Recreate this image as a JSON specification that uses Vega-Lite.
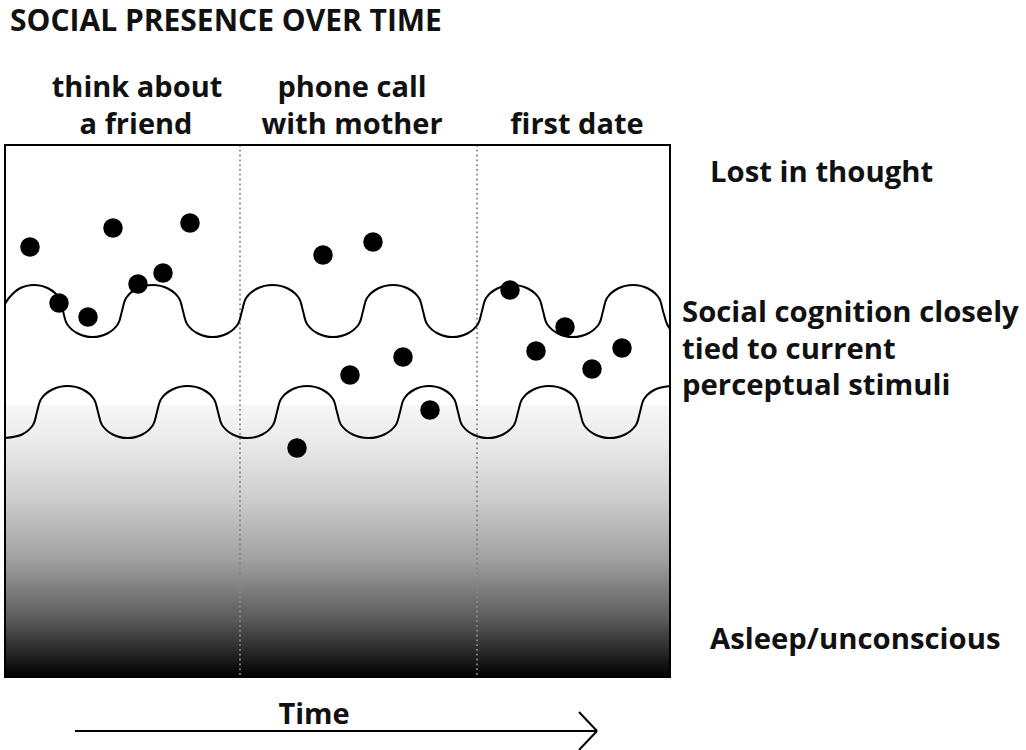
{
  "$schema": "https://vega.github.io/schema/vega-lite/v6.json",
  "width": 665,
  "height": 532,
  "autosize": {"type": "none"},
  "padding": {"left": 5, "top": 145, "right": 356, "bottom": 73},
  "background": "white",
  "config": {"view": {"stroke": null}, "font": "Open Sans"},
  "layer": [
    {
      "data": {"values": [{"top": 405, "bottom": 677}]},
      "mark": {
        "type": "rect",
        "color": {
          "gradient": "linear", "x1": 0, "y1": 0, "x2": 0, "y2": 1,
          "stops": [
            {"offset": 0, "color": "#f6f6f6"},
            {"offset": 0.13, "color": "#ebebeb"},
            {"offset": 0.35, "color": "#cccccc"},
            {"offset": 0.57, "color": "#a0a0a0"},
            {"offset": 0.79, "color": "#5a5a5a"},
            {"offset": 0.95, "color": "#151515"},
            {"offset": 1, "color": "#000000"}
          ]
        }
      },
      "encoding": {
        "y": {"field": "top", "type": "quantitative", "scale": {"domain": [145, 677], "reverse": true, "nice": false, "zero": false}, "axis": null},
        "y2": {"field": "bottom"}
      }
    },
    {
      "data": {"values": [{"x": 240}, {"x": 477}]},
      "mark": {"type": "rule", "color": "#888", "strokeWidth": 1.8, "strokeDash": [1.8, 3]},
      "encoding": {
        "x": {"field": "x", "type": "quantitative", "scale": {"domain": [5, 670], "nice": false, "zero": false}, "axis": null}
      }
    },
    {
      "data": {"values": [
        {"w":"u","x":5,"y":304},{"w":"u","x":8.9,"y":298},{"w":"u","x":19.5,"y":288.5},{"w":"u","x":34,"y":285},{"w":"u","x":48.5,"y":288.5},{"w":"u","x":59.1,"y":298},{"w":"u","x":63,"y":311},
        {"w":"u","x":67,"y":324},{"w":"u","x":77.8,"y":333.5},{"w":"u","x":92.5,"y":337},{"w":"u","x":107.3,"y":333.5},{"w":"u","x":118,"y":324},{"w":"u","x":122,"y":311},
        {"w":"u","x":126.1,"y":298},{"w":"u","x":137.3,"y":288.5},{"w":"u","x":152.5,"y":285},{"w":"u","x":167.8,"y":288.5},{"w":"u","x":178.9,"y":298},{"w":"u","x":183,"y":311},
        {"w":"u","x":187,"y":324},{"w":"u","x":197.8,"y":333.5},{"w":"u","x":212.5,"y":337},{"w":"u","x":227.3,"y":333.5},{"w":"u","x":238,"y":324},{"w":"u","x":242,"y":311},
        {"w":"u","x":246.1,"y":298},{"w":"u","x":257.3,"y":288.5},{"w":"u","x":272.5,"y":285},{"w":"u","x":287.8,"y":288.5},{"w":"u","x":298.9,"y":298},{"w":"u","x":303,"y":311},
        {"w":"u","x":307,"y":324},{"w":"u","x":318,"y":333.5},{"w":"u","x":333,"y":337},{"w":"u","x":348,"y":333.5},{"w":"u","x":359,"y":324},{"w":"u","x":363,"y":311},
        {"w":"u","x":367,"y":298},{"w":"u","x":378,"y":288.5},{"w":"u","x":393,"y":285},{"w":"u","x":408,"y":288.5},{"w":"u","x":419,"y":298},{"w":"u","x":423,"y":311},
        {"w":"u","x":427,"y":324},{"w":"u","x":437.8,"y":333.5},{"w":"u","x":452.5,"y":337},{"w":"u","x":467.3,"y":333.5},{"w":"u","x":478,"y":324},{"w":"u","x":482,"y":311},
        {"w":"u","x":486.1,"y":298},{"w":"u","x":497.3,"y":288.5},{"w":"u","x":512.5,"y":285},{"w":"u","x":527.8,"y":288.5},{"w":"u","x":538.9,"y":298},{"w":"u","x":543,"y":311},
        {"w":"u","x":547,"y":324},{"w":"u","x":558,"y":333.5},{"w":"u","x":573,"y":337},{"w":"u","x":588,"y":333.5},{"w":"u","x":599,"y":324},{"w":"u","x":603,"y":311},
        {"w":"u","x":607,"y":298},{"w":"u","x":618,"y":288.5},{"w":"u","x":633,"y":285},{"w":"u","x":648,"y":288.5},{"w":"u","x":659,"y":298},{"w":"u","x":663,"y":311},
        {"w":"u","x":667,"y":324},{"w":"u","x":670,"y":329},
        {"w":"l","x":5,"y":438},{"w":"l","x":22,"y":434.5},{"w":"l","x":33,"y":425},{"w":"l","x":37,"y":412},
        {"w":"l","x":41.1,"y":399},{"w":"l","x":52.3,"y":389.5},{"w":"l","x":67.5,"y":386},{"w":"l","x":82.8,"y":389.5},{"w":"l","x":93.9,"y":399},{"w":"l","x":98,"y":412},
        {"w":"l","x":102,"y":425},{"w":"l","x":112.8,"y":434.5},{"w":"l","x":127.5,"y":438},{"w":"l","x":142.3,"y":434.5},{"w":"l","x":153,"y":425},{"w":"l","x":157,"y":412},
        {"w":"l","x":161.1,"y":399},{"w":"l","x":172.3,"y":389.5},{"w":"l","x":187.5,"y":386},{"w":"l","x":202.8,"y":389.5},{"w":"l","x":213.9,"y":399},{"w":"l","x":218,"y":412},
        {"w":"l","x":222,"y":425},{"w":"l","x":232.8,"y":434.5},{"w":"l","x":247.5,"y":438},{"w":"l","x":262.3,"y":434.5},{"w":"l","x":273,"y":425},{"w":"l","x":277,"y":412},
        {"w":"l","x":281,"y":399},{"w":"l","x":292,"y":389.5},{"w":"l","x":307,"y":386},{"w":"l","x":322,"y":389.5},{"w":"l","x":333,"y":399},{"w":"l","x":337,"y":412},
        {"w":"l","x":341.2,"y":425},{"w":"l","x":352.8,"y":434.5},{"w":"l","x":368.5,"y":438},{"w":"l","x":384.3,"y":434.5},{"w":"l","x":395.8,"y":425},{"w":"l","x":400,"y":412},
        {"w":"l","x":403.9,"y":399},{"w":"l","x":414.5,"y":389.5},{"w":"l","x":429,"y":386},{"w":"l","x":443.5,"y":389.5},{"w":"l","x":454.1,"y":399},{"w":"l","x":458,"y":412},
        {"w":"l","x":462,"y":425},{"w":"l","x":473,"y":434.5},{"w":"l","x":488,"y":438},{"w":"l","x":503,"y":434.5},{"w":"l","x":514,"y":425},{"w":"l","x":518,"y":412},
        {"w":"l","x":522.2,"y":399},{"w":"l","x":533.5,"y":389.5},{"w":"l","x":549,"y":386},{"w":"l","x":564.5,"y":389.5},{"w":"l","x":575.8,"y":399},{"w":"l","x":580,"y":412},
        {"w":"l","x":584,"y":425},{"w":"l","x":595,"y":434.5},{"w":"l","x":610,"y":438},{"w":"l","x":625,"y":434.5},{"w":"l","x":636,"y":425},{"w":"l","x":640,"y":412},
        {"w":"l","x":644,"y":399},{"w":"l","x":655,"y":389.5},{"w":"l","x":670,"y":386}
      ]},
      "mark": {"type": "line", "color": "#000", "strokeWidth": 2, "interpolate": "catmull-rom"},
      "encoding": {
        "x": {"field": "x", "type": "quantitative", "scale": {"domain": [5, 670], "nice": false, "zero": false}, "axis": null},
        "y": {"field": "y", "type": "quantitative", "scale": {"domain": [145, 677], "reverse": true, "nice": false, "zero": false}, "axis": null},
        "detail": {"field": "w"}
      }
    },
    {
      "data": {"values": [
        {"x":30,"y":247},{"x":113,"y":228},{"x":190,"y":223},{"x":59,"y":303},{"x":88,"y":317},{"x":138,"y":284},{"x":163,"y":273},
        {"x":323,"y":255},{"x":373,"y":242},{"x":350,"y":375},{"x":403,"y":357},{"x":430,"y":410},{"x":297,"y":448},
        {"x":510,"y":290},{"x":565,"y":327},{"x":536,"y":351},{"x":592,"y":369},{"x":622,"y":348}
      ]},
      "mark": {"type": "circle", "color": "#000", "opacity": 1, "size": 380},
      "encoding": {
        "x": {"field": "x", "type": "quantitative", "scale": {"domain": [5, 670], "nice": false, "zero": false}, "axis": null},
        "y": {"field": "y", "type": "quantitative", "scale": {"domain": [145, 677], "reverse": true, "nice": false, "zero": false}, "axis": null}
      }
    },
    {
      "data": {"values": [{}]},
      "mark": {"type": "rect", "filled": false, "stroke": "#000", "strokeWidth": 2},
      "encoding": {}
    },
    {
      "data": {"values": [{"t": "SOCIAL PRESENCE OVER TIME", "x": 10, "y": 22}]},
      "mark": {"type": "text", "align": "left", "baseline": "middle", "fontSize": 30, "fontWeight": "bold", "color": "#111", "letterSpacing": -0.8},
      "encoding": {
        "x": {"field": "x", "type": "quantitative", "scale": {"domain": [5, 670], "nice": false, "zero": false}, "axis": null},
        "y": {"field": "y", "type": "quantitative", "scale": {"domain": [145, 677], "reverse": true, "nice": false, "zero": false}, "axis": null},
        "text": {"field": "t"}
      }
    },
    {
      "data": {"values": [
        {"t": "think about", "x": 137, "y": 88},
        {"t": "a friend", "x": 136, "y": 125},
        {"t": "phone call", "x": 352, "y": 88},
        {"t": "with mother", "x": 352, "y": 125},
        {"t": "first date", "x": 577, "y": 125},
        {"t": "Time", "x": 314, "y": 715}
      ]},
      "mark": {"type": "text", "align": "center", "baseline": "middle", "fontSize": 29, "fontWeight": "bold", "color": "#111"},
      "encoding": {
        "x": {"field": "x", "type": "quantitative", "scale": {"domain": [5, 670], "nice": false, "zero": false}, "axis": null},
        "y": {"field": "y", "type": "quantitative", "scale": {"domain": [145, 677], "reverse": true, "nice": false, "zero": false}, "axis": null},
        "text": {"field": "t"}
      }
    },
    {
      "data": {"values": [
        {"t": "Lost in thought", "x": 710, "y": 173},
        {"t": "Social cognition closely", "x": 682, "y": 313},
        {"t": "tied to current", "x": 682, "y": 350},
        {"t": "perceptual stimuli", "x": 682, "y": 386},
        {"t": "Asleep/unconscious", "x": 710, "y": 640}
      ]},
      "mark": {"type": "text", "align": "left", "baseline": "middle", "fontSize": 29.3, "fontWeight": "bold", "color": "#111"},
      "encoding": {
        "x": {"field": "x", "type": "quantitative", "scale": {"domain": [5, 670], "nice": false, "zero": false}, "axis": null},
        "y": {"field": "y", "type": "quantitative", "scale": {"domain": [145, 677], "reverse": true, "nice": false, "zero": false}, "axis": null},
        "text": {"field": "t"}
      }
    },
    {
      "data": {"values": [
        {"s": "shaft", "x": 75, "y": 731}, {"s": "shaft", "x": 597, "y": 731},
        {"s": "head1", "x": 579, "y": 712}, {"s": "head1", "x": 597, "y": 731},
        {"s": "head2", "x": 579, "y": 750}, {"s": "head2", "x": 597, "y": 731}
      ]},
      "mark": {"type": "line", "color": "#000", "strokeWidth": 2},
      "encoding": {
        "x": {"field": "x", "type": "quantitative", "scale": {"domain": [5, 670], "nice": false, "zero": false}, "axis": null},
        "y": {"field": "y", "type": "quantitative", "scale": {"domain": [145, 677], "reverse": true, "nice": false, "zero": false}, "axis": null},
        "detail": {"field": "s"}
      }
    }
  ]
}
